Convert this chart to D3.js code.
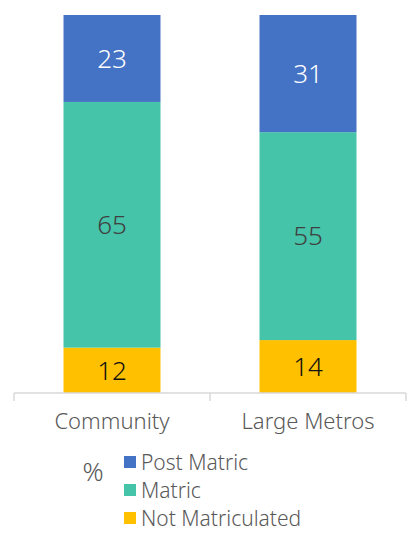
<!doctype html>
<html>
<head>
  <meta charset="utf-8">
  <script src="https://d3js.org/d3.v7.min.js"></script>
  <style>
    body { margin: 0; background: #fff; }
    text { font-family: "Noto Sans", sans-serif; font-weight: 300; }
  </style>
</head>
<body>
<script>
  var categories = ["Community", "Large Metros"];
  var seriesNames = ["Not Matriculated", "Matric", "Post Matric"];
  var notMatriculated = [12, 14];
  var matric = [65, 55];
  var postMatric = [23, 31];

  var colors = ["#FFC000", "#45C4A9", "#4472C4"];
  var labelColors = ["#111", "#404040", "#fff"];

  var rows = categories.map(function (c, i) {
    return { cat: c, "Not Matriculated": notMatriculated[i], "Matric": matric[i], "Post Matric": postMatric[i] };
  });
  var stacked = d3.stack().keys(seriesNames)(rows);

  var svg = d3.select("body").append("svg")
    .attr("width", 416).attr("height", 535);

  var x = d3.scaleBand().domain(categories).range([14, 406]).paddingInner(0).paddingOuter(0);
  var y = d3.scaleLinear().domain([0, 100]).range([393, 15]);
  var barW = 97;

  var groups = svg.selectAll("g.series").data(stacked).enter().append("g")
    .attr("class", "series");

  groups.each(function (s, si) {
    var g = d3.select(this);
    g.selectAll("rect").data(s).enter().append("rect")
      .attr("x", function (d) { return x(d.data.cat) + x.bandwidth() / 2 - barW / 2; })
      .attr("width", barW)
      .attr("y", function (d) { return y(d[1]); })
      .attr("height", function (d) { return y(d[0]) - y(d[1]); })
      .attr("fill", colors[si]);
    g.selectAll("text").data(s).enter().append("text")
      .attr("x", function (d) { return x(d.data.cat) + x.bandwidth() / 2; })
      .attr("y", function (d) { return (y(d[0]) + y(d[1])) / 2; })
      .attr("dy", "0.36em")
      .attr("text-anchor", "middle")
      .attr("font-size", 26)
      .attr("fill", labelColors[si])
      .text(function (d) { return d[1] - d[0]; });
  });

  // axis
  var axis = svg.append("g").attr("transform", "translate(0,393)");
  axis.append("line").attr("x1", 14).attr("x2", 406).attr("stroke", "#d9d9d9").attr("stroke-width", 1.5);
  var edges = [14].concat(categories.map(function (c) { return x(c) + x.bandwidth(); }));
  axis.selectAll("line.tick").data(edges).enter().append("line")
    .attr("class", "tick")
    .attr("x1", function (d) { return d; }).attr("x2", function (d) { return d; })
    .attr("y1", 0).attr("y2", 8)
    .attr("stroke", "#d9d9d9").attr("stroke-width", 1.5);
  axis.selectAll("text").data(categories).enter().append("text")
    .attr("x", function (d) { return x(d) + x.bandwidth() / 2; })
    .attr("y", 28)
    .attr("dy", "0.36em")
    .attr("text-anchor", "middle")
    .attr("font-size", 22)
    .attr("fill", "#595959")
    .text(function (d) { return d; });

  // legend
  var legend = svg.append("g");
  legend.append("text").attr("x", 93).attr("y", 472).attr("dy", "0.36em")
    .attr("text-anchor", "middle").attr("font-size", 26).attr("fill", "#595959").text("%");
  var legendOrder = seriesNames.slice().reverse();
  var li = legend.selectAll("g.item").data(legendOrder).enter().append("g")
    .attr("class", "item")
    .attr("transform", function (d, i) { return "translate(124," + (462 + i * 28) + ")"; });
  li.append("rect").attr("x", 0).attr("y", -6).attr("width", 12).attr("height", 12)
    .attr("fill", function (d) { return colors[seriesNames.indexOf(d)]; });
  li.append("text").attr("x", 17).attr("y", 0).attr("dy", "0.36em")
    .attr("font-size", 21).attr("fill", "#595959")
    .text(function (d) { return d; });
</script>
</body>
</html>
